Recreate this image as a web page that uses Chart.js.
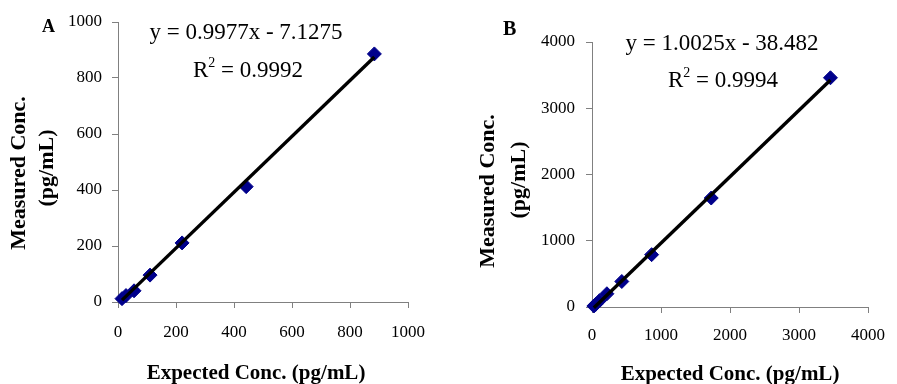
<!DOCTYPE html>
<html><head><meta charset="utf-8">
<script src="https://cdn.jsdelivr.net/npm/chart.js@4.4.1/dist/chart.umd.min.js"></script>
<style>
html,body{margin:0;padding:0;background:#fff;width:897px;height:384px;overflow:hidden}
canvas{position:absolute;top:0}
#cA{left:0}
#cB{left:450px}
</style></head><body>
<canvas id="cA" width="450" height="384"></canvas>
<canvas id="cB" width="447" height="384"></canvas>
<script>
// ---- data ----
const expectedA = [884, 442, 221, 110.5, 55.3, 27.6, 13.8];
const measuredA = [886, 412, 211, 96, 40, 23, 12];
const slopeA = 0.9977, interceptA = -7.1275, r2A = 0.9992;
const ticksA = [0, 200, 400, 600, 800, 1000];

const expectedB = [3456, 1728, 864, 432, 216, 108, 54, 27];
const measuredB = [3460, 1645, 790, 385, 200, 95, 40, 15];
const slopeB = 1.0025, interceptB = -38.482, r2B = 0.9994;
const ticksB = [0, 1000, 2000, 3000, 4000];

const xTitle = 'Expected Conc. (pg/mL)';
const yTitle = ['Measured Conc.', '(pg/mL)'];

const SERIF = '"Liberation Serif", "Times New Roman", serif';

const textPlugin = {
  id: 'texts',
  afterDraw(chart, args, o) {
    const ctx = chart.ctx;
    ctx.save();
    ctx.fillStyle = '#000';
    ctx.textBaseline = 'alphabetic';
    // panel letter
    ctx.font = `bold ${o.letterSize}px ${SERIF}`;
    ctx.textAlign = 'left';
    ctx.fillText(o.letter, o.letterX, o.letterY);
    // equation
    ctx.font = `${o.eqSize}px ${SERIF}`;
    ctx.textAlign = 'center';
    ctx.fillText(o.eq, o.eqX, o.eqY);
    // R^2
    const big = `${o.eqSize}px ${SERIF}`;
    const small = `${Math.round(o.eqSize * 0.62)}px ${SERIF}`;
    ctx.font = big; const wR = ctx.measureText('R').width;
    const rest = ' = ' + o.r2;
    const wRest = ctx.measureText(rest).width;
    ctx.font = small; const w2 = ctx.measureText('2').width;
    const total = wR + w2 + wRest;
    let x = o.r2X - total / 2;
    ctx.textAlign = 'left';
    ctx.font = big; ctx.fillText('R', x, o.r2Y); x += wR;
    ctx.font = small; ctx.fillText('2', x, o.r2Y - o.eqSize * 0.42); x += w2;
    ctx.font = big; ctx.fillText(rest, x, o.r2Y);
    // x title
    ctx.font = `bold ${o.xtSize}px ${SERIF}`;
    ctx.textAlign = 'center';
    ctx.fillText(xTitle, o.xtX, o.xtY);
    // y title (rotated)
    ctx.font = `bold ${o.ytSize}px ${SERIF}`;
    o.yt.forEach((p, i) => {
      ctx.save();
      ctx.translate(p[0], p[1]);
      ctx.rotate(-Math.PI / 2);
      ctx.fillText(yTitle[i], 0, 0);
      ctx.restore();
    });
    ctx.restore();
  }
};

function makeChart(id, xs, ys, slope, intercept, r2, ticks, geo, txt) {
  const pts = xs.map((x, i) => ({x, y: ys[i]}));
  const xmin = Math.min(...xs), xmax = Math.max(...xs);
  const line = [{x: xmin, y: slope * xmin + intercept}, {x: xmax, y: slope * xmax + intercept}];
  const axisCommon = (pad) => ({
    type: 'linear',
    min: ticks[0], max: ticks[ticks.length - 1],
    ticks: {stepSize: ticks[1] - ticks[0], color: '#000', padding: pad,
            font: {family: SERIF, size: 17}, callback: v => String(v)},
    grid: {display: true, drawOnChartArea: false, drawTicks: true, tickLength: 6,
           color: '#808080', lineWidth: 1},
    border: {display: true, color: '#808080', width: 1}
  });
  const xAxis = axisCommon(geo.xPad);
  xAxis.position = 'bottom';
  xAxis.afterFit = s => { s.height = geo.xH; };
  const yAxis = axisCommon(geo.yPad);
  yAxis.position = 'left';
  yAxis.afterFit = s => { s.width = geo.yW; };
  txt.eq = `y = ${slope}x - ${Math.abs(intercept)}`;
  txt.r2 = String(r2);
  return new Chart(document.getElementById(id), {
    type: 'scatter',
    data: {
      datasets: [
        {type: 'line', data: line, borderColor: '#000', borderWidth: 3.4, pointRadius: 0,
         fill: false, clip: false},
        {data: pts, pointStyle: 'rectRot', pointRadius: 7, backgroundColor: '#00008b',
         borderColor: '#00008b', borderWidth: 1, clip: false}
      ]
    },
    options: {
      responsive: false, animation: false, devicePixelRatio: 1,
      layout: {padding: {left: 0, top: geo.top, right: geo.right, bottom: 0}},
      plugins: {legend: {display: false}, tooltip: {enabled: false}, texts: txt},
      scales: {x: xAxis, y: yAxis}
    },
    plugins: [textPlugin]
  });
}

makeChart('cA', expectedA, measuredA, slopeA, interceptA, r2A, ticksA,
  {xH: 82, yW: 118, top: 22, right: 42, xPad: 14, yPad: 10},
  {letter: 'A', letterSize: 18, letterX: 42, letterY: 32,
   eqSize: 23, eqX: 246, eqY: 39, r2X: 248, r2Y: 77,
   xtSize: 21, xtX: 256, xtY: 379,
   ytSize: 22, yt: [[25, 173], [53, 168]]});

makeChart('cB', expectedB, measuredB, slopeB, interceptB, r2B, ticksB,
  {xH: 77, yW: 142, top: 42, right: 15, xPad: 12, yPad: 11},
  {letter: 'B', letterSize: 20, letterX: 53, letterY: 35,
   eqSize: 23, eqX: 272, eqY: 50, r2X: 273, r2Y: 87,
   xtSize: 21, xtX: 280, xtY: 380,
   ytSize: 22, yt: [[44, 191], [75, 180]]});
</script>
</body></html>
